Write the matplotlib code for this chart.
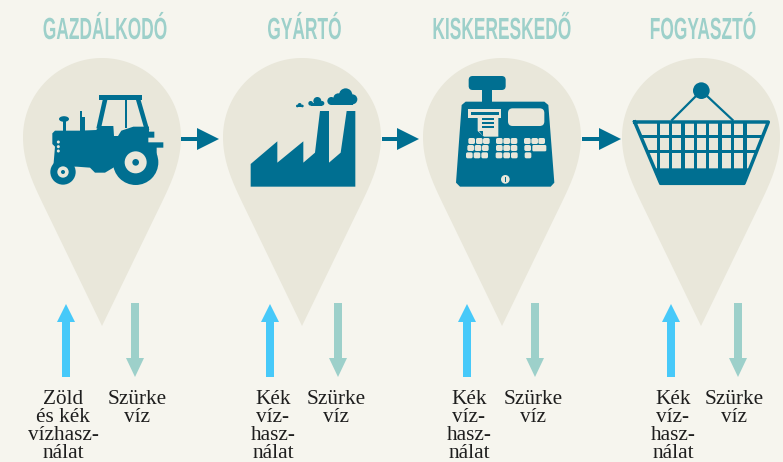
import numpy as np
import matplotlib
matplotlib.use("Agg")
import matplotlib.pyplot as plt
from matplotlib.patches import Polygon, Circle, Ellipse, FancyBboxPatch
from matplotlib.patheffects import AbstractPathEffect
from matplotlib.transforms import Affine2D

W, H = 783, 462
BG = "#F6F5EE"
PIN = "#E9E7DA"
TEAL = "#006F91"
BLUE = "#47C9F9"
GREY = "#9DD0CA"
INK = "#1E1E1E"

stages = ["GAZDÁLKODÓ", "GYÁRTÓ", "KISKERESKEDŐ", "FOGYASZTÓ"]
title_x = [105, 304.5, 501.5, 703]
pin_x = [102, 302, 502, 701]
up_x = [66, 270, 467, 671]
down_x = [135, 338, 535, 738]
up_labels = ["Zöld\nés kék\nvízhasz-\nnálat", "Kék\nvíz-\nhasz-\nnálat", "Kék\nvíz-\nhasz-\nnálat", "Kék\nvíz-\nhasz-\nnálat"]
up_label_x = [63, 273, 469, 673]
down_labels = ["Szürke\nvíz"] * 4
down_label_x = [137, 336, 533, 734]
flow_arrows = [(181, 219), (382, 419), (582, 621)]

fig = plt.figure(figsize=(W / 100, H / 100), dpi=100, facecolor=BG)
ax = fig.add_axes([0, 0, 1, 1])
ax.set_xlim(0, W)
ax.set_ylim(H, 0)
ax.axis("off")


class VStretch(AbstractPathEffect):
    """Stretch real text vertically about its baseline (display coordinates)."""

    def __init__(self, sy, y0):
        super().__init__()
        self.t = Affine2D().translate(0, -y0).scale(1, sy).translate(0, y0)

    def draw_path(self, renderer, gc, tpath, affine, rgbFace=None):
        renderer.draw_path(gc, tpath, affine + self.t, rgbFace)


def pin(cx, cy=137, r=79, tip=189):
    t = np.linspace(np.pi, 2 * np.pi, 80)
    arc = np.c_[r * np.cos(t), r * np.sin(t)]
    p0, p1, p2, p3 = map(np.array, [(79, 0), (79, 24), (70, 44), (61, 63)])
    s = np.linspace(0, 1, 30)[:, None]
    right = (1 - s) ** 3 * p0 + 3 * (1 - s) ** 2 * s * p1 + 3 * (1 - s) * s ** 2 * p2 + s ** 3 * p3
    left = right[::-1] * [-1, 1]
    pts = np.vstack([arc, right, [(0, tip)], left])
    ax.add_patch(Polygon(pts + [cx, cy], closed=True, fc=PIN, ec="none", zorder=1))


def up_arrow(x, top=304, neck=322, bottom=377):
    ax.add_patch(Polygon([(x - 4, bottom), (x - 4, neck), (x - 9, neck), (x, top), (x + 9, neck), (x + 4, neck), (x + 4, bottom)],
                         closed=True, fc=BLUE, ec="none", zorder=2))


def down_arrow(x, top=303, neck=358, bottom=377):
    ax.add_patch(Polygon([(x - 4, top), (x + 4, top), (x + 4, neck), (x + 9, neck), (x, bottom), (x - 9, neck), (x - 4, neck)],
                         closed=True, fc=GREY, ec="none", zorder=2))


def flow(x0, x1, y=139):
    b = x1 - 22
    ax.add_patch(Polygon([(x0, y - 2), (b, y - 2), (b, y - 11), (x1, y), (b, y + 11), (b, y + 2), (x0, y + 2)],
                         closed=True, fc=TEAL, ec="none", zorder=3))


def mapper(ox, oy):
    return lambda pts: [(ox + a / 3, oy + b / 3) for a, b in pts]


def poly(m, pts, color=TEAL, z=3):
    ax.add_patch(Polygon(m(pts), closed=True, fc=color, ec="none", zorder=z))


def circ(m, x, y, r, color=TEAL, z=3):
    c = m([(x, y)])[0]
    ax.add_patch(Circle(c, r / 3, fc=color, ec="none", zorder=z))


def rrect(m, x0, y0, x1, y1, rad, color=TEAL, z=3):
    (a, b), = m([(x0, y0)])
    (c, d), = m([(x1, y1)])
    rr = rad / 3
    ax.add_patch(FancyBboxPatch((a + rr, b + rr), c - a - 2 * rr, d - b - 2 * rr,
                                boxstyle=f"round,pad={rr},rounding_size={rr}", fc=color, ec="none", zorder=z))


def tractor():
    m = mapper(0, 0)
    poly(m, [(298, 285), (425, 285), (425, 300), (298, 300)])
    poly(m, [(308, 300), (322, 300), (303, 385), (289, 385)])
    poly(m, [(376, 300), (381, 300), (381, 385), (376, 385)])
    poly(m, [(408, 300), (422, 300), (448, 390), (434, 390)])
    poly(m, [(157, 400), (165, 392), (240, 392), (289, 390), (296, 378), (340, 378), (342, 408), (354, 408),
             (364, 392), (400, 380), (447, 380), (447, 395), (463, 395), (463, 413), (445, 413), (445, 427),
             (490, 427), (490, 443), (470, 443), (470, 500), (345, 500), (315, 518), (285, 518), (270, 503),
             (230, 500), (160, 500), (165, 440), (157, 432)])
    poly(m, [(240, 333), (245, 333), (245, 352), (255, 352), (255, 392), (240, 392)])
    poly(m, [(188, 360), (197, 360), (197, 392), (188, 392)])
    cx, cy = m([(192, 357)])[0]
    ax.add_patch(Ellipse((cx, cy), 10, 5.6, fc=TEAL, ec="none", zorder=3))
    poly(m, [(347, 365), (351, 365), (358, 398), (353, 400)], PIN, 4)
    for y in (426, 440, 453):
        circ(m, 175, y, 4.5, PIN, 4)
    circ(m, 407, 487, 68)
    circ(m, 407, 487, 33, PIN, 4)
    circ(m, 407, 487, 10, TEAL, 5)
    circ(m, 189, 516, 38)
    circ(m, 189, 516, 17, PIN, 4)
    circ(m, 189, 516, 6, TEAL, 5)


def factory():
    m = mapper(220, 0)
    poly(m, [(92, 492), (172, 424), (172, 488), (250, 424), (250, 488), (285, 458), (300, 333), (327, 333),
             (327, 488), (362, 458), (380, 333), (406, 333), (406, 560), (92, 560)])
    for x, y, r in [(334, 303, 12), (355, 295, 15), (377, 285, 20), (397, 298, 15),
                    (272, 310, 7), (292, 303, 12), (306, 310, 7), (232, 318, 4), (239, 315, 6), (247, 318, 4)]:
        circ(m, x, y, r)
    poly(m, [(334, 300), (398, 300), (398, 315), (334, 315)])
    poly(m, [(272, 308), (306, 308), (306, 317), (272, 317)])
    poly(m, [(232, 317), (247, 317), (247, 322), (232, 322)])


def register():
    m = mapper(420, 50)
    rrect(m, 146, 78, 257, 120, 12)
    poly(m, [(187, 118), (217, 118), (217, 157), (187, 157)])
    poly(m, [(137, 155), (373, 155), (385, 165), (403, 398), (392, 410), (120, 410), (108, 398), (125, 165)])
    rrect(m, 264, 175, 373, 228, 14, PIN, 4)
    poly(m, [(145, 178), (242, 178), (242, 204), (145, 204)], PIN, 4)
    poly(m, [(152, 186), (236, 186), (236, 194), (152, 194)], TEAL, 5)
    poly(m, [(173, 195), (235, 195), (235, 260), (192, 260), (173, 243)], PIN, 6)
    for y in (205, 216, 227):
        poly(m, [(185, y), (222, y), (222, y + 6), (185, y + 6)], TEAL, 7)
    poly(m, [(176, 243), (190, 243), (190, 258)], TEAL, 7)
    rows = [(273, [155, 178, 199, 238, 260, 282, 322, 344, 365]),
            (294, [152, 174, 196, 238, 260, 282, 323]),
            (316, [148, 171, 194, 237, 260, 283, 324])]
    for y, xs in rows:
        for x in xs:
            rrect(m, x - 10, y - 9, x + 10, y + 9, 5, PIN, 4)
    rrect(m, 337, 285, 379, 304, 4, PIN, 4)
    circ(m, 256, 388, 13, PIN, 4)
    poly(m, [(254, 380), (258, 380), (258, 396), (254, 396)], TEAL, 5)


def basket():
    m = mapper(600, 50)
    circ(m, 304, 122, 25)
    ax.plot(*zip(*m([(214, 212), (304, 122), (400, 212)])), color=TEAL, lw=1.6, zorder=3, solid_capstyle="butt")
    ax.plot(*zip(*m([(104, 216), (505, 216), (432, 400), (182, 400), (104, 216)])), color=TEAL, lw=2.5, zorder=3,
            solid_joinstyle="round")
    poly(m, [(160, 355), (452, 355), (433, 405), (180, 405)])
    for x in (175, 212, 249, 286, 322, 360, 397, 435):
        poly(m, [(x - 5, 212), (x + 5, 212), (x + 5, 360), (x - 5, 360)])
    for y, x0, x1 in [(259, 122, 488), (305, 140, 470)]:
        poly(m, [(x0, y - 4), (x1, y - 4), (x1, y + 4), (x0, y + 4)])


for x in pin_x:
    pin(x)
for a, b in flow_arrows:
    flow(a, b)
for x in up_x:
    up_arrow(x)
for x in down_x:
    down_arrow(x)
tractor()
factory()
register()
basket()

BASE = 39
for x, s in zip(title_x, stages):
    t = ax.text(x, BASE, s, ha="center", va="baseline", color=GREY, fontsize=12.5, fontweight="bold",
                family=["Liberation Sans", "DejaVu Sans"], zorder=5)
    t.set_path_effects([VStretch(1.76, H - BASE)])
for x, s in zip(up_label_x, up_labels):
    ax.text(x, 389.8, s, ha="center", va="top", color=INK, fontsize=15.3, linespacing=0.93,
            family=["Liberation Serif", "DejaVu Serif"], zorder=5, multialignment="center")
for x, s in zip(down_label_x, down_labels):
    ax.text(x, 389.8, s, ha="center", va="top", color=INK, fontsize=15.3, linespacing=0.93,
            family=["Liberation Serif", "DejaVu Serif"], zorder=5, multialignment="center")

fig.savefig("out.png", dpi=100, facecolor=BG)
